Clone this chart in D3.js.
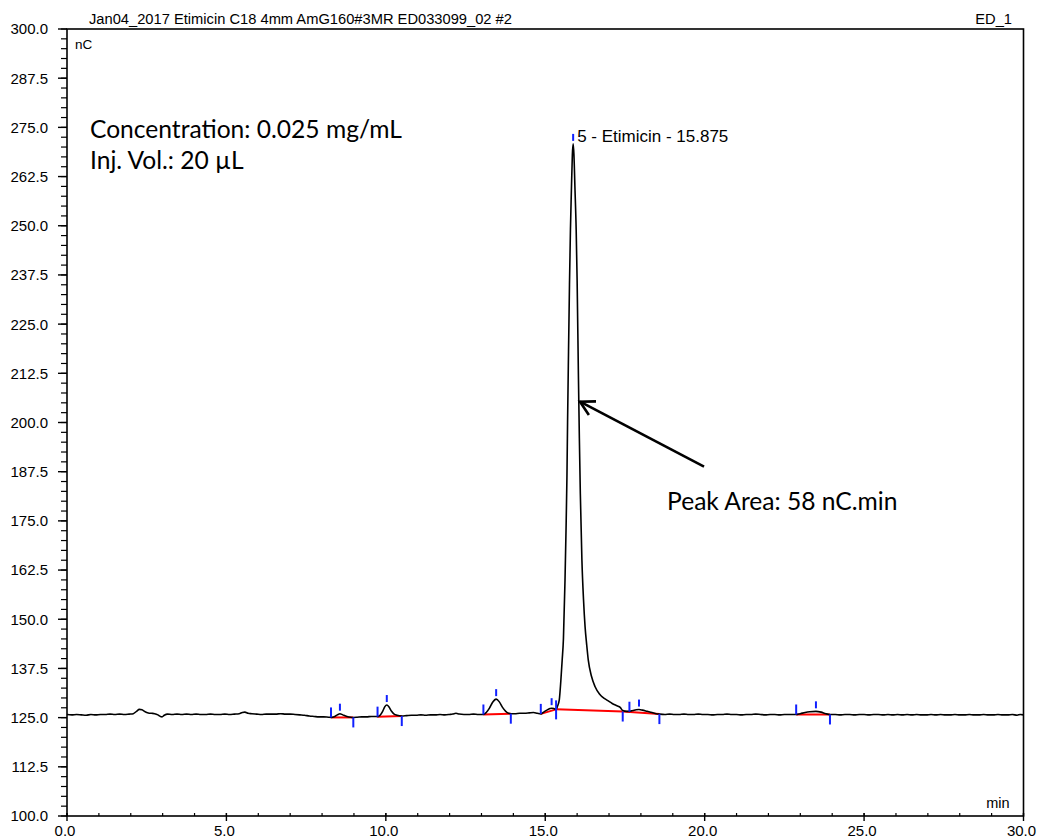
<!DOCTYPE html>
<html><head><meta charset="utf-8">
<script src="https://cdn.jsdelivr.net/npm/d3@7"></script>
<style>
html,body{margin:0;padding:0;background:#fff;}
svg{display:block;}
text{font-family:Arial,"Liberation Sans",sans-serif;}
.note{font-family:Lato,"Open Sans",sans-serif;}
</style></head>
<body>
<svg id="chart" width="1037" height="839"></svg>
<script>
// ---- data ----
const title = "Jan04_2017 Etimicin C18 4mm AmG160#3MR ED033099_02 #2";
const channel = "ED_1";
const xDomain = [0, 30];
const yDomain = [100, 300];
const xMajorTicks = [0, 5, 10, 15, 20, 25, 30];
const yMajorTicks = [100, 112.5, 125, 137.5, 150, 162.5, 175, 187.5, 200, 212.5, 225, 237.5, 250, 262.5, 275, 287.5, 300];

// chromatogram trace: [time (min), signal (nC)]
const trace = [
[0.00,125.8],[0.15,125.7],[0.30,125.8],[0.45,125.7],[0.60,125.6],[0.75,125.8],[0.90,125.7],[1.05,125.8],[1.20,125.8],[1.35,125.9],[1.50,125.8],[1.65,125.9],[1.80,125.8],[1.95,125.9],[2.08,126.0],[2.18,126.6],[2.27,127.1],[2.35,127.0],[2.45,126.5],[2.55,126.2],[2.65,126.1],[2.75,126.0],[2.85,125.7],[2.93,125.3],[2.98,125.2],[3.05,125.6],[3.15,125.9],[3.30,125.8],[3.45,125.9],[3.60,125.8],[3.75,125.9],[3.90,125.8],[4.05,125.9],[4.20,125.8],[4.35,125.8],[4.50,125.9],[4.65,125.8],[4.80,125.8],[4.95,125.9],[5.10,125.8],[5.25,125.9],[5.40,126.0],[5.50,126.3],[5.58,126.4],[5.68,126.1],[5.80,126.0],[5.95,125.9],[6.10,125.8],[6.25,125.9],[6.40,125.9],[6.55,125.9],[6.70,126.0],[6.85,125.9],[7.00,125.9],[7.15,125.8],[7.30,125.7],[7.45,125.6],[7.60,125.4],[7.75,125.3],[7.90,125.2],[8.05,125.2],[8.20,125.1],[8.28,125.05],[8.40,125.3],[8.50,125.8],[8.56,126.0],[8.65,125.7],[8.78,125.3],[8.90,125.1],[8.98,125.05],[9.10,125.1],[9.25,125.2],[9.40,125.2],[9.55,125.3],[9.65,125.3],[9.74,125.25],[9.82,125.6],[9.90,126.6],[9.97,127.8],[10.03,128.2],[10.10,127.7],[10.18,126.6],[10.26,125.9],[10.35,125.6],[10.50,125.4],[10.65,125.5],[10.80,125.6],[10.95,125.6],[11.10,125.7],[11.25,125.6],[11.40,125.7],[11.55,125.7],[11.70,125.8],[11.85,125.7],[12.00,125.8],[12.10,125.9],[12.20,126.1],[12.30,125.9],[12.45,125.8],[12.60,125.8],[12.75,125.9],[12.90,125.8],[13.06,125.8],[13.15,126.3],[13.25,127.4],[13.35,128.9],[13.46,129.7],[13.56,129.0],[13.66,127.6],[13.76,126.6],[13.85,126.1],[13.92,126.0],[14.05,126.0],[14.20,126.1],[14.35,126.1],[14.50,126.2],[14.63,126.3],[14.75,126.1],[14.86,125.95],[14.95,126.4],[15.05,126.9],[15.15,127.3],[15.20,127.4],[15.27,127.3],[15.34,127.1],[15.38,127.8],[15.44,129.5],[15.49,134.5],[15.53,139.5],[15.57,145.0],[15.62,160.0],[15.65,172.0],[15.68,186.0],[15.70,200.0],[15.73,218.0],[15.76,235.0],[15.79,249.0],[15.82,259.0],[15.85,268.0],[15.875,270.8],[15.90,268.0],[15.93,260.0],[15.97,249.0],[16.00,236.0],[16.04,212.0],[16.07,196.0],[16.10,182.0],[16.15,165.0],[16.20,155.0],[16.25,148.0],[16.30,143.5],[16.35,139.6],[16.45,135.5],[16.56,132.9],[16.70,131.0],[16.85,129.9],[16.95,129.4],[17.10,128.6],[17.25,128.0],[17.35,127.6],[17.43,126.8],[17.55,126.6],[17.64,126.6],[17.75,126.8],[17.85,127.0],[17.94,127.05],[18.05,126.9],[18.20,126.6],[18.35,126.3],[18.48,126.0],[18.58,125.9],[18.75,125.8],[18.90,125.9],[19.05,125.8],[19.20,125.8],[19.35,125.9],[19.50,125.8],[19.65,125.8],[19.80,125.9],[19.95,125.8],[20.10,125.8],[20.25,125.7],[20.40,125.8],[20.55,125.8],[20.70,125.9],[20.85,125.8],[21.00,125.8],[21.15,125.7],[21.30,125.8],[21.45,125.8],[21.60,125.9],[21.75,125.8],[21.90,125.7],[22.05,125.8],[22.20,125.8],[22.35,125.7],[22.50,125.8],[22.65,125.8],[22.80,125.8],[22.87,125.8],[23.00,126.0],[23.15,126.3],[23.30,126.5],[23.49,126.6],[23.65,126.4],[23.80,126.0],[23.93,125.8],[24.10,125.8],[24.25,125.7],[24.40,125.8],[24.55,125.8],[24.70,125.7],[24.85,125.8],[25.00,125.8],[25.15,125.7],[25.30,125.8],[25.45,125.8],[25.60,125.7],[25.75,125.8],[25.90,125.7],[26.05,125.8],[26.20,125.7],[26.35,125.8],[26.50,125.7],[26.65,125.8],[26.80,125.7],[26.95,125.7],[27.10,125.8],[27.25,125.7],[27.40,125.8],[27.55,125.7],[27.70,125.7],[27.85,125.8],[28.00,125.7],[28.15,125.7],[28.30,125.8],[28.45,125.7],[28.60,125.7],[28.75,125.8],[28.90,125.7],[29.05,125.7],[29.20,125.8],[29.35,125.7],[29.50,125.7],[29.65,125.8],[29.80,125.6],[29.90,125.8],[30.00,125.7]
];

// integration baselines: [t0, v0, t1, v1]
const baselines = [
[8.28,125.05, 8.98,125.05],
[9.74,125.25, 10.50,125.4],
[13.06,125.8, 13.92,126.0],
[14.86,125.95, 15.34,127.1],
[15.34,127.1, 17.43,126.55],
[17.43,126.55, 18.58,125.9],
[22.87,125.8, 23.93,125.8]
];

// peak delimiters: [time, signal, kind]
const delimiters = [
[8.28,125.05,"start"],[8.56,126.0,"apex"],[8.98,125.05,"end"],
[9.74,125.25,"start"],[10.03,128.2,"apex"],[10.50,125.4,"end"],
[13.06,125.8,"start"],[13.46,129.7,"apex"],[13.92,126.0,"end"],
[14.86,125.95,"start"],[15.20,127.4,"apex"],[15.34,127.1,"split"],
[15.875,270.8,"apex"],[17.43,126.55,"end"],
[17.64,126.5,"start"],[17.94,127.05,"apex"],[18.58,125.9,"end"],
[22.87,125.8,"start"],[23.49,126.6,"apex"],[23.93,125.8,"end"]
];

const peakLabels = [[15.875, 270.8, "5 - Etimicin - 15.875"]];
const notes = [
[0.72, 272.4, "Concentration: 0.025 mg/mL"],
[0.72, 264.3, "Inj. Vol.: 20 µL"],
[18.82, 177.8, "Peak Area: 58 nC.min"]
];
const arrow = [[19.98, 188.8], [16.09, 205.3]];

// ---- layout ----
const svg = d3.select("#chart");
const L = 67, R = 1023.5, T = 29, B = 816;
const x = d3.scaleLinear().domain(xDomain).range([L, R]);
const y = d3.scaleLinear().domain(yDomain).range([B, T]);

// y axis ticks
const yMinor = d3.range(yDomain[0], yDomain[1] + 0.01, 2.5);
svg.append("g").selectAll("line").data(yMinor).join("line")
  .attr("x1", L - 6).attr("x2", L).attr("y1", d => y(d)).attr("y2", d => y(d))
  .attr("stroke", "#000").attr("stroke-width", 1.2);
svg.append("g").selectAll("line").data(yMajorTicks).join("line")
  .attr("x1", L - 9).attr("x2", L).attr("y1", d => y(d)).attr("y2", d => y(d))
  .attr("stroke", "#000").attr("stroke-width", 1.4);
svg.append("g").selectAll("text").data(yMajorTicks).join("text")
  .attr("x", L - 19).attr("y", d => y(d)).attr("dy", "0.36em")
  .attr("text-anchor", "end").attr("font-size", 15).text(d => d.toFixed(1));

// x axis ticks
const xMinor = d3.range(xDomain[0], xDomain[1] + 0.01, 1);
svg.append("g").selectAll("line").data(xMinor).join("line")
  .attr("x1", d => x(d)).attr("x2", d => x(d)).attr("y1", B - 3).attr("y2", B)
  .attr("stroke", "#000").attr("stroke-width", 1.2);
svg.append("g").selectAll("line").data(xMajorTicks).join("line")
  .attr("x1", d => x(d)).attr("x2", d => x(d)).attr("y1", B - 3).attr("y2", B + 5)
  .attr("stroke", "#000").attr("stroke-width", 1.4);
svg.append("g").selectAll("text").data(xMajorTicks).join("text")
  .attr("x", d => x(d) - 2).attr("y", B + 20)
  .attr("text-anchor", "middle").attr("font-size", 15).text(d => d.toFixed(1));

// frame
svg.append("rect").attr("x", L).attr("y", T).attr("width", R - L).attr("height", B - T)
  .attr("fill", "none").attr("stroke", "#000").attr("stroke-width", 1.6);

// titles
svg.append("text").attr("x", 89).attr("y", 24).attr("font-size", 14.7).text(title);
svg.append("text").attr("x", 1012).attr("y", 24).attr("text-anchor", "end").attr("font-size", 14.7).text(channel);
svg.append("text").attr("x", L + 8).attr("y", T + 20).attr("font-size", 13.5).text("nC");
svg.append("text").attr("x", R - 14).attr("y", B - 8).attr("text-anchor", "end").attr("font-size", 14.5).text("min");

// baselines (red)
svg.append("g").selectAll("line").data(baselines).join("line")
  .attr("x1", d => x(d[0])).attr("y1", d => y(d[1]))
  .attr("x2", d => x(d[2])).attr("y2", d => y(d[3]))
  .attr("stroke", "#ff0000").attr("stroke-width", 2);

// trace
const line = d3.line().x(d => x(d[0])).y(d => y(d[1])).curve(d3.curveMonotoneX);
svg.append("path").datum(trace).attr("d", line)
  .attr("fill", "none").attr("stroke", "#000").attr("stroke-width", 1.6)
  .attr("stroke-linejoin", "round");

// delimiters (blue)
const ext = {start: [-10, 0], end: [0, 10], apex: [-10, -3], split: [-9, 10]};
svg.append("g").selectAll("line").data(delimiters).join("line")
  .attr("x1", d => x(d[0])).attr("x2", d => x(d[0]))
  .attr("y1", d => y(d[1]) + ext[d[2]][0]).attr("y2", d => y(d[1]) + ext[d[2]][1])
  .attr("stroke", "#1020ff").attr("stroke-width", 2);

// peak label
svg.append("g").selectAll("text").data(peakLabels).join("text")
  .attr("x", d => x(d[0]) + 4).attr("y", d => y(d[1]) - 2)
  .attr("font-size", 17).text(d => d[2]);

// notes
svg.append("g").selectAll("text").data(notes).join("text")
  .attr("class", "note").attr("x", d => x(d[0])).attr("y", d => y(d[1]))
  .attr("font-size", 24.6).text(d => d[2]);

// arrow
const [a0, a1] = arrow;
const p0 = [x(a0[0]), y(a0[1])], p1 = [x(a1[0]), y(a1[1])];
const ang = Math.atan2(p0[1] - p1[1], p0[0] - p1[0]);
const hl = 16, ha = 0.5;
svg.append("line").attr("x1", p0[0]).attr("y1", p0[1]).attr("x2", p1[0]).attr("y2", p1[1])
  .attr("stroke", "#000").attr("stroke-width", 2.6);
svg.append("path")
  .attr("d", `M${p1[0] + hl * Math.cos(ang + ha)},${p1[1] + hl * Math.sin(ang + ha)}L${p1[0]},${p1[1]}L${p1[0] + hl * Math.cos(ang - ha)},${p1[1] + hl * Math.sin(ang - ha)}`)
  .attr("fill", "none").attr("stroke", "#000").attr("stroke-width", 2.6);
</script>
</body></html>
